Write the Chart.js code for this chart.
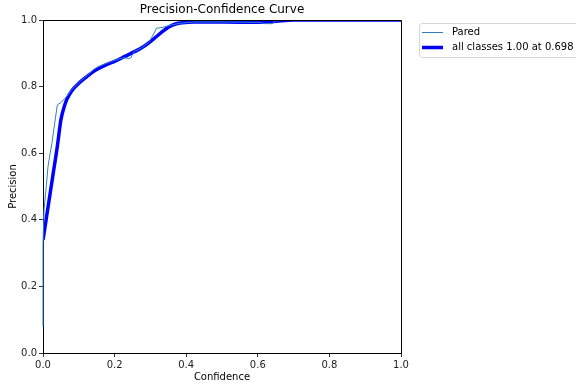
<!DOCTYPE html>
<html>
<head>
<meta charset="utf-8">
<title>Precision-Confidence Curve</title>
<script src="https://cdn.jsdelivr.net/npm/chart.js@4.4.0/dist/chart.umd.min.js"></script>
<style>
  html, body { margin: 0; padding: 0; background: #fff; }
  canvas { display: block; }
</style>
</head>
<body>
<canvas id="prChart" width="576" height="387"></canvas>
<script>
// Precision-Confidence curve, values

const chartTitle = 'Precision-Confidence Curve';
const xLabel = 'Confidence';
const yLabel = 'Precision';
const tickValues = [0, 0.2, 0.4, 0.6, 0.8, 1.0];

// per-class curve (raw)
const paredLabel = 'Pared';
const paredConfidence = [0.000, 0.000, 0.003, 0.009, 0.014, 0.020, 0.025, 0.030, 0.034, 0.040, 0.050, 0.066,
    0.080, 0.100, 0.120, 0.140, 0.150, 0.165, 0.190, 0.215, 0.228, 0.238, 0.245, 0.255, 0.275, 0.295,
    0.305, 0.317, 0.335, 0.355, 0.380, 0.420, 0.500, 0.600, 0.622, 0.640, 0.648, 0.690, 1.000];
const paredPrecision = [0.080, 0.330, 0.430, 0.500, 0.560, 0.600, 0.630, 0.670, 0.700, 0.745, 0.752, 0.770,
    0.790, 0.812, 0.830, 0.850, 0.858, 0.865, 0.875, 0.884, 0.887, 0.884, 0.886, 0.905, 0.916, 0.932,
    0.950, 0.975, 0.978, 0.984, 0.990, 0.994, 0.994, 0.993, 0.989, 0.989, 0.997, 1.000, 1.000];

// all classes (smoothed)
const allLabel = 'all classes 1.00 at 0.698';
const allConfidence = [0.000, 0.010, 0.020, 0.030, 0.040, 0.050, 0.058, 0.066, 0.080, 0.100, 0.120, 0.145,
    0.170, 0.200, 0.220, 0.250, 0.270, 0.290, 0.310, 0.330, 0.350, 0.370, 0.390, 0.420, 0.500, 0.600,
    0.650, 0.698, 1.000];
const allPrecision = [0.339, 0.410, 0.480, 0.550, 0.620, 0.700, 0.735, 0.760, 0.787, 0.810, 0.828, 0.848,
    0.862, 0.876, 0.886, 0.902, 0.913, 0.927, 0.944, 0.962, 0.978, 0.988, 0.992, 0.994, 0.994, 0.993,
    0.996, 1.000, 1.000];

const toPoints = (xs, ys) => xs.map((x, i) => ({ x: x, y: ys[i] }));

// draws title, the top/right spines and the legend box outside the plot
const framePlugin = {
    id: 'frame',
    afterDraw(chart) {
        const ctx = chart.ctx;
        const a = chart.chartArea;
        ctx.save();

        ctx.strokeStyle = '#000';
        ctx.lineWidth = 1;
        ctx.beginPath();
        ctx.moveTo(Math.round(a.left) + 0.5, Math.round(a.top) + 0.5);
        ctx.lineTo(Math.round(a.right) + 0.5, Math.round(a.top) + 0.5);
        ctx.lineTo(Math.round(a.right) + 0.5, Math.round(a.bottom) + 0.5);
        ctx.stroke();

        ctx.fillStyle = '#000';
        ctx.font = '12px "DejaVu Sans"';
        ctx.textAlign = 'center';
        ctx.textBaseline = 'middle';
        ctx.fillText(chartTitle, (a.left + a.right) / 2, a.top - 10);

        // legend
        const lx = 419, ly = 23.5;
        ctx.fillStyle = 'rgba(255,255,255,0.8)';
        ctx.strokeStyle = '#d6d6d6';
        ctx.beginPath();
        ctx.roundRect(lx + 0.5, ly, 200, 34, 3);
        ctx.fill();
        ctx.stroke();

        ctx.font = '10px "DejaVu Sans"';
        ctx.textAlign = 'left';
        chart.data.datasets.forEach((ds, i) => {
            const y = 32.5 + i * 15;
            ctx.strokeStyle = ds.borderColor;
            ctx.lineWidth = ds.borderWidth;
            ctx.beginPath();
            ctx.moveTo(422, y);
            ctx.lineTo(443, y);
            ctx.stroke();
            ctx.fillStyle = '#000';
            ctx.fillText(ds.label, 452, y);
        });
        ctx.restore();
    }
};

const axisStyle = (title, pad) => ({
    type: 'linear',
    min: 0,
    max: 1,
    afterBuildTicks: scale => { scale.ticks = tickValues.map(v => ({ value: v })); },
    ticks: {
        color: '#222',
        font: { family: 'DejaVu Sans', size: 10 },
        padding: 2,
        maxRotation: 0,
        callback: v => Number(v).toFixed(1)
    },
    grid: {
        drawOnChartArea: false,
        drawTicks: true,
        tickLength: 4,
        color: '#000',
        lineWidth: 0.8
    },
    border: { display: true, color: '#000', width: 1 },
    title: {
        display: true,
        text: title,
        color: '#000',
        font: { family: 'DejaVu Sans', size: 10 },
        padding: pad
    }
});

const xAxis = axisStyle(xLabel, { top: 4, bottom: 4 });
xAxis.afterFit = scale => { scale.height = 34; };
const yAxis = axisStyle(yLabel, { top: 7, bottom: 7 });
yAxis.afterFit = scale => { scale.width = 43; };

new Chart(document.getElementById('prChart').getContext('2d'), {
    type: 'line',
    data: {
        datasets: [
            {
                label: paredLabel,
                data: toPoints(paredConfidence, paredPrecision),
                borderColor: '#2f80c0',
                borderWidth: 1,
                pointRadius: 0,
                tension: 0,
                clip: { left: 1, top: 0, right: 0, bottom: 0 }
            },
            {
                label: allLabel,
                data: toPoints(allConfidence, allPrecision),
                borderColor: '#0000ff',
                borderWidth: 3.5,
                pointRadius: 0,
                cubicInterpolationMode: 'monotone',
                clip: 0
            }
        ]
    },
    options: {
        responsive: false,
        animation: false,
        devicePixelRatio: 1,
        layout: { padding: { top: 20, right: 175, left: 0, bottom: 0 } },
        plugins: {
            legend: { display: false },
            tooltip: { enabled: false }
        },
        scales: { x: xAxis, y: yAxis }
    },
    plugins: [framePlugin]
});
</script>
</body>
</html>
